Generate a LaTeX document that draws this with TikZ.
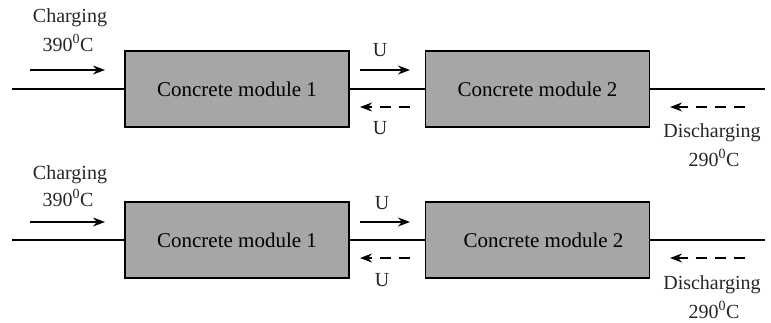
\documentclass[tikz,border=0pt]{standalone}
\usepackage{fontspec}
\setmainfont{Liberation Serif}
\usetikzlibrary{arrows.meta}
\begin{document}
\begin{tikzpicture}[x=1pt,y=-1pt,
  module/.style={draw=black,line width=1.4pt,fill=boxgray,minimum width=224pt,minimum height=76pt,inner sep=0pt,font=\fontsize{21}{23}\selectfont},
  pipe/.style={line width=1.3pt},
  flow/.style={line width=1.4pt,-{Stealth[length=12pt,width=9pt]}},
  backflow/.style={line width=1.4pt,dash pattern=on 11pt off 8pt,-{Stealth[length=12pt,width=9pt]}},
  lbl/.style={inner sep=0pt,font=\fontsize{20}{22}\selectfont,text=black!85}]
\definecolor{boxgray}{HTML}{A6A6A6}
\useasboundingbox (0,0) rectangle (771,322);
% ---------- top row ----------
\node[module] (m1a) at (237,89) {Concrete module 1};
\node[module] (m2a) at (537.5,89) {Concrete module 2};
\coordinate (la) at (12,89);
\coordinate (ra) at (765,89);
\draw[pipe] (la) -- (m1a.west);
\draw[pipe] (m1a.east) -- (m2a.west);
\draw[pipe] (m2a.east) -- (ra);
\coordinate (ca1) at (30,70); \coordinate (ca2) at (105,70);
\draw[flow] (ca1) -- (ca2);
\coordinate (ua1) at (360,70); \coordinate (ua2) at (410,70);
\draw[flow] (ua1) -- (ua2);
\coordinate (va1) at (410,107); \coordinate (va2) at (360,107);
\draw[backflow] (va1) -- (va2);
\coordinate (da1) at (745,107); \coordinate (da2) at (670,107);
\draw[backflow] (da1) -- (da2);
\node[lbl] (cha) at (70,18) {Charging};
\node[lbl] (cta) at (68,43) {390\textsuperscript{0}C};
\node[lbl] (uta) at (380,50) {U};
\node[lbl] (uba) at (380,128) {U};
\node[lbl] (dha) at (712,133) {Discharging};
\node[lbl] (dta) at (714,158) {290\textsuperscript{0}C};
% ---------- bottom row ----------
\node[module] (m1b) at (237,240) {Concrete module 1};
\node[module] (m2b) at (537.5,240) {\hspace*{12pt}Concrete module 2};
\coordinate (lb) at (12,240);
\coordinate (rb) at (765,240);
\draw[pipe] (lb) -- (m1b.west);
\draw[pipe] (m1b.east) -- (m2b.west);
\draw[pipe] (m2b.east) -- (rb);
\coordinate (cb1) at (30,222); \coordinate (cb2) at (105,222);
\draw[flow] (cb1) -- (cb2);
\coordinate (ub1) at (360,222); \coordinate (ub2) at (410,222);
\draw[flow] (ub1) -- (ub2);
\coordinate (vb1) at (410,258); \coordinate (vb2) at (360,258);
\draw[backflow] (vb1) -- (vb2);
\coordinate (db1) at (745,258); \coordinate (db2) at (670,258);
\draw[backflow] (db1) -- (db2);
\node[lbl] (chb) at (70,175) {Charging};
\node[lbl] (ctb) at (68,198) {390\textsuperscript{0}C};
\node[lbl] (utb) at (382,203) {U};
\node[lbl] (ubb) at (382,280) {U};
\node[lbl] (dhb) at (712,285) {Discharging};
\node[lbl] (dtb) at (714,310) {290\textsuperscript{0}C};
\end{tikzpicture}
\end{document}
